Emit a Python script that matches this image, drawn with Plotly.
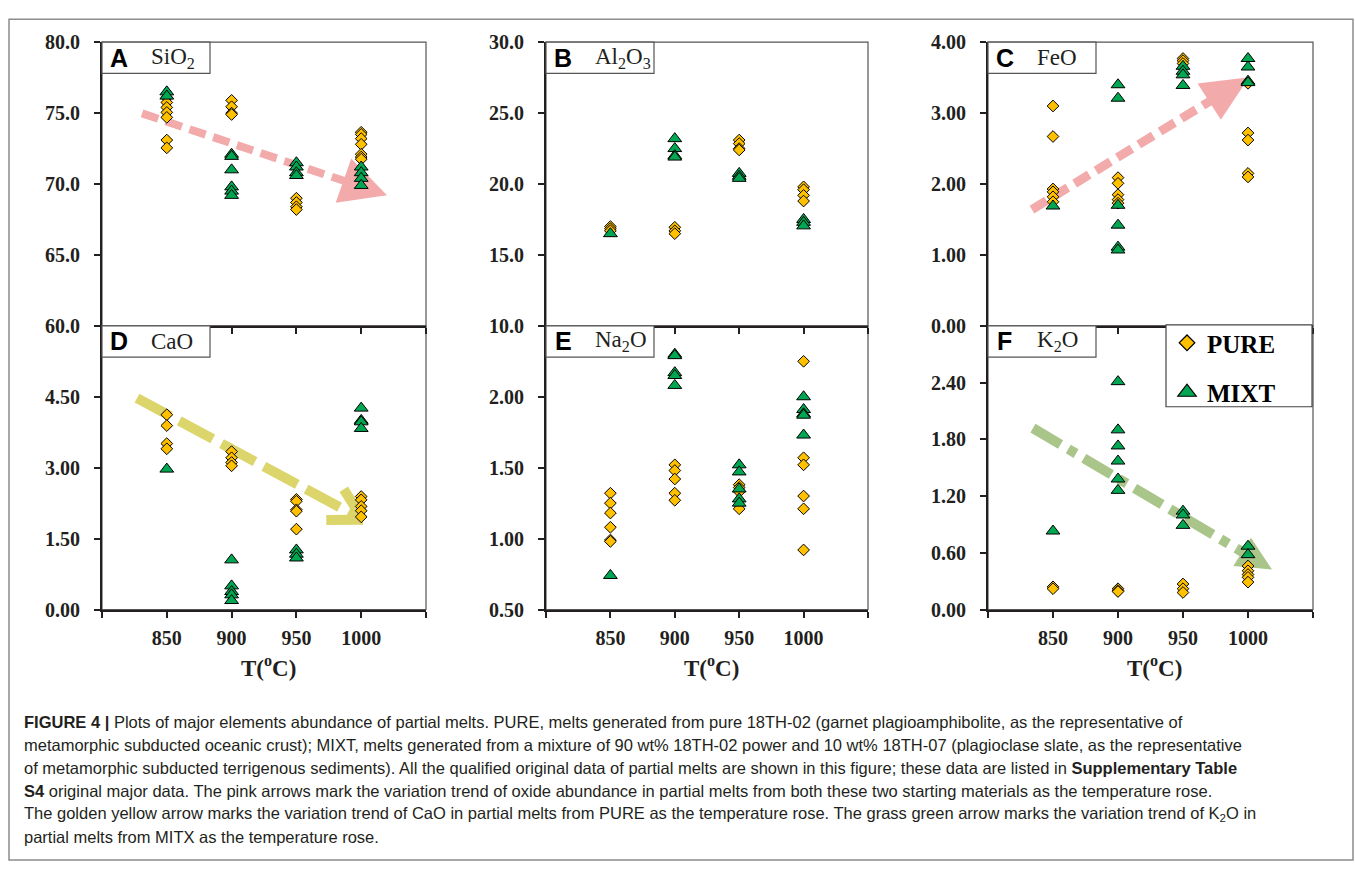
import math
import plotly.graph_objects as go

# ---------------- data ----------------
TEMPS = [850, 900, 950, 1000]
X_TICKS = [850, 900, 950, 1000]
X_TICKTEXT = ["850", "900", "950", "1000"]
X_END_TICKS = [800, 1050]

# each list: values at 850, 900, 950, 1000 degC
SIO2_PURE = [[76.1, 75.75, 75.4, 75.05, 74.7, 73.1, 72.55],
             [75.9, 75.45, 75.0, 74.9],
             [69.0, 68.7, 68.4, 68.2],
             [73.65, 73.5, 73.2, 72.8, 72.1, 71.9, 71.75]]
SIO2_MIXT = [[76.5, 76.2],
             [72.1, 71.95, 71.0, 69.8, 69.5, 69.2],
             [71.5, 71.2, 70.8, 70.6],
             [71.2, 70.8, 70.4, 69.9]]

AL2O3_PURE = [[17.0, 16.85, 16.7],
              [16.95, 16.7, 16.5],
              [23.1, 22.85, 22.5, 22.4],
              [19.8, 19.6, 19.2, 18.8]]
AL2O3_MIXT = [[16.5],
              [23.2, 22.5, 22.0, 21.9],
              [20.75, 20.55, 20.4],
              [17.5, 17.3, 17.05]]

FEO_PURE = [[3.10, 2.67, 1.93, 1.89, 1.82, 1.75],
            [2.09, 2.01, 1.85, 1.78, 1.73],
            [3.77, 3.74, 3.70],
            [3.42, 2.72, 2.62, 2.15, 2.10]]
FEO_MIXT = [[1.69],
            [3.40, 3.21, 1.70, 1.42, 1.11, 1.07],
            [3.66, 3.59, 3.54, 3.39],
            [3.77, 3.65, 3.45, 3.43]]

CAO_PURE = [[4.12, 3.89, 3.51, 3.40],
            [3.34, 3.21, 3.11, 3.04],
            [2.33, 2.29, 2.11, 2.08, 1.70],
            [2.39, 2.32, 2.18, 2.09, 1.96]]
CAO_MIXT = [[2.97],
            [1.05, 0.50, 0.38, 0.31, 0.19],
            [1.26, 1.17, 1.09],
            [4.26, 4.00, 3.97, 3.83]]

NA2O_PURE = [[1.32, 1.25, 1.18, 1.08, 0.99, 0.98],
             [1.52, 1.48, 1.42, 1.32, 1.27],
             [1.38, 1.36, 1.33, 1.21],
             [2.25, 1.57, 1.52, 1.30, 1.21, 0.92]]
NA2O_MIXT = [[0.74],
             [2.30, 2.29, 2.17, 2.15, 2.08],
             [1.52, 1.47, 1.35, 1.28, 1.25],
             [2.00, 1.91, 1.88, 1.87, 1.73]]

K2O_PURE = [[0.24, 0.22],
            [0.22, 0.20, 0.19],
            [0.27, 0.22, 0.18],
            [0.46, 0.41, 0.37, 0.34, 0.29]]
K2O_MIXT = [[0.83],
            [2.41, 1.90, 1.73, 1.57, 1.38, 1.26],
            [1.04, 1.00, 0.89],
            [0.67, 0.58]]

PANEL_LETTERS = ["A", "B", "C", "D", "E", "F"]
PANEL_NAMES = ["SiO<sub>2</sub>", "Al<sub>2</sub>O<sub>3</sub>", "FeO",
               "CaO", "Na<sub>2</sub>O", "K<sub>2</sub>O"]
Y_RANGES = [[60, 80], [10, 30], [0, 4], [0, 6], [0.5, 2.5], [0, 3]]
Y_TICKS = [[60, 65, 70, 75, 80], [10, 15, 20, 25, 30], [0, 1, 2, 3, 4],
           [0, 1.5, 3, 4.5], [0.5, 1.0, 1.5, 2.0], [0, 0.6, 1.2, 1.8, 2.4]]
Y_TICKTEXT = [["60.0", "65.0", "70.0", "75.0", "80.0"],
              ["10.0", "15.0", "20.0", "25.0", "30.0"],
              ["0.00", "1.00", "2.00", "3.00", "4.00"],
              ["0.00", "1.50", "3.00", "4.50"],
              ["0.50", "1.00", "1.50", "2.00"],
              ["0.00", "0.60", "1.20", "1.80", "2.40"]]
PURE_DATA = [SIO2_PURE, AL2O3_PURE, FEO_PURE, CAO_PURE, NA2O_PURE, K2O_PURE]
MIXT_DATA = [SIO2_MIXT, AL2O3_MIXT, FEO_MIXT, CAO_MIXT, NA2O_MIXT, K2O_MIXT]
SERIES_NAMES = ["PURE", "MIXT"]

# trend arrows: panel index, start (T, value), tip (T, value)
ARROW_PANEL = [0, 2, 3, 5]
ARROW_START = [(830.9, 74.98), (833.8, 1.64), (827.0, 4.47), (834.6, 1.918)]
ARROW_TIP = [(1019.9, 69.21), (1000.8, 3.505), (1001.4, 1.90), (1018.5, 0.423)]

CAPTION = [
    "<b>FIGURE 4 |</b> Plots of major elements abundance of partial melts. PURE, melts generated from pure 18TH-02 (garnet plagioamphibolite, as the representative of",
    "metamorphic subducted oceanic crust); MIXT, melts generated from a mixture of 90 wt% 18TH-02 power and 10 wt% 18TH-07 (plagioclase slate, as the representative",
    "of metamorphic subducted terrigenous sediments). All the qualified original data of partial melts are shown in this figure; these data are listed in <b>Supplementary Table</b>",
    "<b>S4</b> original major data. The pink arrows mark the variation trend of oxide abundance in partial melts from both these two starting materials as the temperature rose.",
    "The golden yellow arrow marks the variation trend of CaO in partial melts from PURE as the temperature rose. The grass green arrow marks the variation trend of K<sub>2</sub>O in",
    "partial melts from MITX as the temperature rose.",
]

# ---------------- styling / layout ----------------
W, H = 1355, 872
COLS = [(102, 426), (546, 868), (988, 1313)]
ROWS = [(32, 323), (323, 614)]
DARK = "#231F20"
SERIF = "Liberation Serif"
SANS = "Liberation Sans"
PURE_COLOR = "#FFC000"
MIXT_COLOR = "#00A651"

ARROW_STYLE = [
    dict(color="#F3AAAB", width=8, dash="17px,8px", head="fill", hl=46, hw=24),
    dict(color="#F3AAAB", width=9, dash="17px,8px", head="fill", hl=47, hw=22),
    dict(color="#DCD56C", width=10, dash="38px,10px", head="open", hl=32, hw=18),
    dict(color="#AAC58A", width=10, dash="32px,9px,9px,9px", head="fill", hl=35, hw=17),
]


def px_x(px):
    return px / W


def px_y(py):
    return 1 - py / H


def panel_box(i):
    r, c = divmod(i, 3)
    return COLS[c], ROWS[r]


fig = go.Figure()
layout = dict(width=W, height=H, margin=dict(l=0, r=0, t=0, b=0), autosize=False,
              paper_bgcolor="white", plot_bgcolor="white", hovermode=False)
shapes = []
annotations = []

tickfont = dict(family=SERIF, size=20, color=DARK, weight="bold")

for i in range(6):
    (x0, x1), (y0, y1) = panel_box(i)
    sfx = "" if i == 0 else str(i + 1)
    bottom = i >= 3
    layout["xaxis" + sfx] = dict(
        domain=[px_x(x0), px_x(x1)], range=[800, 1050], anchor="y" + sfx,
        tickvals=X_TICKS, ticktext=X_TICKTEXT, showticklabels=bottom,
        ticks="outside", ticklen=6, tickwidth=1.5, tickcolor=DARK,
        minor=dict(tickvals=X_END_TICKS, ticks="outside", ticklen=6, tickwidth=1.5,
                   tickcolor=DARK, showgrid=False),
        showline=True, linewidth=2, linecolor=DARK, showgrid=False, zeroline=False,
        tickfont=tickfont, ticklabelstandoff=3, fixedrange=True)
    layout["yaxis" + sfx] = dict(
        domain=[px_y(y1), px_y(y0)], range=Y_RANGES[i], anchor="x" + sfx,
        tickvals=Y_TICKS[i], ticktext=Y_TICKTEXT[i],
        ticks="outside", ticklen=6, tickwidth=1.5, tickcolor=DARK,
        showline=True, linewidth=2, linecolor=DARK, showgrid=False, zeroline=False,
        tickfont=tickfont, ticklabelstandoff=10, fixedrange=True)

    # box outline (top / right)
    shapes.append(dict(type="rect", xref="paper", yref="paper",
                       x0=px_x(x0), x1=px_x(x1), y0=px_y(y1), y1=px_y(y0),
                       line=dict(color="#555555", width=1.2), layer="below"))

    # data
    for series, data, sym, size, color in ((SERIES_NAMES[0], PURE_DATA[i], "diamond", 9, PURE_COLOR),
                                           (SERIES_NAMES[1], MIXT_DATA[i], "triangle-up", 12, MIXT_COLOR)):
        xs, ys = [], []
        for t, vals in zip(TEMPS, data):
            xs += [t] * len(vals)
            ys += vals
        fig.add_trace(go.Scatter(
            x=xs, y=ys, mode="markers", name=series, legendgroup=series,
            showlegend=False, xaxis="x" + sfx, yaxis="y" + sfx,
            marker=dict(symbol=sym, size=size, color=color,
                        line=dict(color="black", width=1))))

    # panel label box
    bx1 = x0 + 108
    by1 = y0 + 32
    shapes.append(dict(type="rect", xref="paper", yref="paper",
                       x0=px_x(x0), x1=px_x(bx1), y0=px_y(by1), y1=px_y(y0),
                       line=dict(color="#555555", width=1.2), fillcolor="white", layer="above"))
    cy = y0 + 16
    annotations.append(dict(xref="paper", yref="paper", x=px_x(x0 + 17), y=px_y(cy),
                            text="<b>%s</b>" % PANEL_LETTERS[i], showarrow=False,
                            xanchor="center", yanchor="middle",
                            font=dict(family=SANS, size=25, color="black")))
    annotations.append(dict(xref="paper", yref="paper", x=px_x(x0 + 47), y=px_y(cy),
                            text=PANEL_NAMES[i], showarrow=False,
                            xanchor="left", yanchor="middle",
                            font=dict(family=SERIF, size=23, color=DARK)))
    if bottom:
        annotations.append(dict(xref="paper", yref="paper", x=px_x((x0 + x1) / 2 + 4), y=px_y(672),
                                text="<b>T(<sup>o</sup>C)</b>", showarrow=False,
                                xanchor="center", yanchor="middle",
                                font=dict(family=SERIF, size=23, color=DARK)))

# legend-only entries (larger symbols, as in the reference key)
for series, sym, size, color in ((SERIES_NAMES[0], "diamond", 12, PURE_COLOR),
                                 (SERIES_NAMES[1], "triangle-up", 16, MIXT_COLOR)):
    fig.add_trace(go.Scatter(x=[None], y=[None], mode="markers", name=series,
                             legendgroup=series, showlegend=True, xaxis="x6", yaxis="y6",
                             marker=dict(symbol=sym, size=size, color=color,
                                         line=dict(color="black", width=1.2))))

# ---------------- arrows ----------------
for k, pi in enumerate(ARROW_PANEL):
    (x0, x1), (y0, y1) = panel_box(pi)
    ymin, ymax = Y_RANGES[pi]
    sfx = "" if pi == 0 else str(pi + 1)
    st = ARROW_STYLE[k]

    def to_px(p):
        return (x0 + (p[0] - 800) / 250 * (x1 - x0), y1 - (p[1] - ymin) / (ymax - ymin) * (y1 - y0))

    def to_data(q):
        return (800 + (q[0] - x0) / (x1 - x0) * 250, ymin + (y1 - q[1]) / (y1 - y0) * (ymax - ymin))

    s = to_px(ARROW_START[k])
    t = to_px(ARROW_TIP[k])
    L = math.hypot(t[0] - s[0], t[1] - s[1])
    u = ((t[0] - s[0]) / L, (t[1] - s[1]) / L)
    n = (-u[1], u[0])
    base = (t[0] - u[0] * st["hl"], t[1] - u[1] * st["hl"])
    lc = dict(color=st["color"], width=st["width"], dash=st["dash"])
    if st["head"] == "fill":
        end = (base[0] + u[0] * 2, base[1] + u[1] * 2)
        a, b = to_data(s), to_data(end)
        shapes.append(dict(type="line", xref="x" + sfx, yref="y" + sfx,
                           x0=a[0], y0=a[1], x1=b[0], y1=b[1], line=lc, layer="below"))
        p1 = to_data((base[0] + n[0] * st["hw"], base[1] + n[1] * st["hw"]))
        p2 = to_data(t)
        p3 = to_data((base[0] - n[0] * st["hw"], base[1] - n[1] * st["hw"]))
        path = "M %f,%f L %f,%f L %f,%f Z" % (p1[0], p1[1], p2[0], p2[1], p3[0], p3[1])
        shapes.append(dict(type="path", xref="x" + sfx, yref="y" + sfx, path=path,
                           fillcolor=st["color"], line=dict(width=0), layer="below"))
    else:
        a, b = to_data(s), to_data(t)
        shapes.append(dict(type="line", xref="x" + sfx, yref="y" + sfx,
                           x0=a[0], y0=a[1], x1=b[0], y1=b[1], line=lc, layer="below"))
        for sign in (1, -1):
            q = (base[0] + sign * n[0] * st["hw"], base[1] + sign * n[1] * st["hw"])
            qa = to_data(q)
            shapes.append(dict(type="line", xref="x" + sfx, yref="y" + sfx,
                               x0=b[0], y0=b[1], x1=qa[0], y1=qa[1],
                               line=dict(color=st["color"], width=st["width"]), layer="below"))

# legend box
shapes.append(dict(type="rect", xref="paper", yref="paper",
                   x0=px_x(1166), x1=px_x(1312), y0=px_y(406), y1=px_y(322),
                   line=dict(color="#444444", width=1.2), fillcolor="white", layer="above"))

# outer frame
shapes.append(dict(type="rect", xref="paper", yref="paper",
                   x0=px_x(9), x1=px_x(1353), y0=px_y(871), y1=px_y(8.5),
                   line=dict(color="#8C8C8C", width=1.5), layer="above"))

# caption
CAP_Y0, CAP_DY = 729, 23.6
for j, line in enumerate(CAPTION):
    annotations.append(dict(xref="paper", yref="paper", x=px_x(22), y=px_y(CAP_Y0 + j * CAP_DY),
                            text=line, showarrow=False, xanchor="left", yanchor="middle",
                            align="left", font=dict(family=SANS, size=16.5, color=DARK)))

layout["shapes"] = shapes
layout["annotations"] = annotations
layout["legend"] = dict(x=px_x(1167), y=px_y(317), xanchor="left", yanchor="top",
                        bgcolor="rgba(0,0,0,0)", borderwidth=0,
                        font=dict(family=SERIF, size=25, color="black", weight="bold"),
                        itemsizing="trace", tracegroupgap=14, traceorder="grouped")
layout["showlegend"] = True
fig.update_layout(**layout)

# pin the figure to the window origin (no page margin, no extra page height)
PAGE_JS = ("document.body.style.margin='0px';"
           "document.documentElement.style.overflow='hidden';"
           "var d=document.getElementById('{plot_id}');"
           "d.style.position='fixed';d.style.left='0px';d.style.top='0px';")
fig.write_html("out.html", config={"displayModeBar": False}, post_script=PAGE_JS)
